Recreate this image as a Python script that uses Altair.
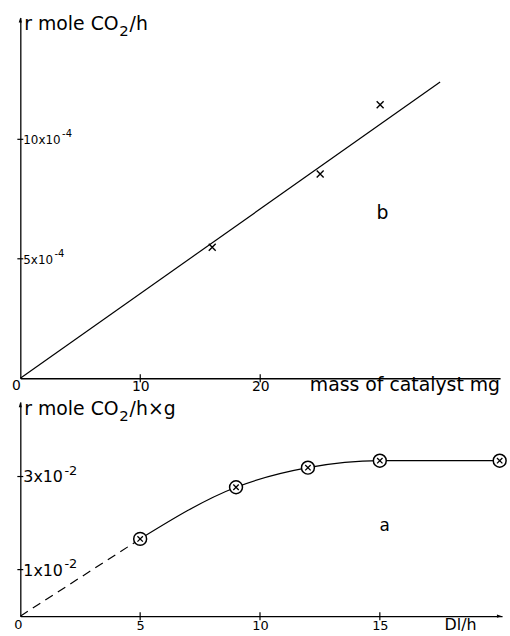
import altair as alt
import pandas as pd

# ---------------- data: panel b (top) ----------------
mass_mg = [16, 25, 30]
rate_b = [5.48e-4, 8.55e-4, 11.45e-4]
fit_mass = [0, 35]
fit_rate = [0, 12.4e-4]
b_xtick_values = [10, 20]
b_ytick_values = [5e-4, 10e-4]
b_ytick_mantissa = ["5x10", "10x10"]
b_ytick_exponent = ["-4", "-4"]

# ---------------- data: panel a (bottom) ----------------
flow = [5, 9, 12, 15, 20]
rate_a = [1.66e-2, 2.77e-2, 3.19e-2, 3.34e-2, 3.34e-2]
extrap_flow = [0, 5]
extrap_rate = [0, 1.66e-2]
a_xtick_values = [5, 10, 15]
a_ytick_values = [1e-2, 3e-2]
a_ytick_mantissa = ["1x10", "3x10"]
a_ytick_exponent = ["-2", "-2"]

FONT = "DejaVu Sans"
INK = "black"
XPATH = "M-1,-1L1,1M-1,1L1,-1"
ARROW_UP = "M0,0L-0.4,1.3L0.4,1.3Z"
ARROW_RIGHT = "M0,0L-1.3,-0.4L-1.3,0.4Z"

# approximate DejaVu Sans advance widths (em) used to chain text pieces
EM = {"r": .411, " ": .318, "m": .974, "o": .612, "l": .278, "e": .615,
      "C": .698, "O": .787, "/": .337, "h": .634, "x": .592, "g": .635,
      "×": .838, "-": .361, "D": .770}
for d in "0123456789":
    EM[d] = .636


def tw(s, size):
    return sum(EM.get(c, .6) for c in s) * size


def one(x, y, t=""):
    return pd.DataFrame({"x": [x], "y": [y], "t": [t]})


def panel(xdom, ydom, xticks, label_pad, label_size):
    xs = alt.Scale(domain=xdom, nice=False, zero=False)
    ys = alt.Scale(domain=ydom, nice=False, zero=False)
    xax = alt.Axis(values=xticks, ticks=False, domain=True, domainColor=INK,
                   domainWidth=1.3, grid=False, labelFont=FONT, labelFontSize=label_size,
                   labelColor=INK, labelPadding=label_pad, format="d", title=None,
                   labelFlush=False)
    yax = alt.Axis(labels=False, ticks=False, domain=True, domainColor=INK,
                   domainWidth=1.3, grid=False, title=None)

    def enc(**kw):
        return dict(x=alt.X("x:Q", scale=xs, axis=xax, title=None),
                    y=alt.Y("y:Q", scale=ys, axis=yax, title=None), **kw)
    return enc


def rich(enc, x, y, parts, dx0):
    """parts: list of (text, fontSize, dy, gap_after)"""
    layers = []
    cur = dx0
    for text, size, dy, gap in parts:
        layers.append(
            alt.Chart(one(x, y, text)).mark_text(
                align="left", baseline="alphabetic", dx=cur, dy=dy,
                font=FONT, fontSize=size, color=INK).encode(**enc(text="t:N")))
        cur += tw(text, size) + gap
    return layers


def ytick_labels(enc, values, mant, expo, base_size, exp_size, base_dy, exp_dy):
    layers = []
    for v, m, e in zip(values, mant, expo):
        layers += rich(enc, 0, v, [(m, base_size, base_dy, 1.5),
                                   (e, exp_size, exp_dy, 0)], 3)
    return layers


# ---------------- top panel ----------------
WB = 484
HB = 364
YB_MAX = 15.1e-4
encb = panel([0, 40], [0, YB_MAX], b_xtick_values, 1, 14)

fit_df = pd.DataFrame({"x": fit_mass, "y": fit_rate})
pts_b = pd.DataFrame({"x": mass_mg, "y": rate_b})
xt_b = pd.DataFrame({"x": b_xtick_values, "y": [0] * len(b_xtick_values)})
yt_b = pd.DataFrame({"x": [0] * len(b_ytick_values), "y": b_ytick_values})

top_layers = [
    alt.Chart(fit_df).mark_line(color=INK, strokeWidth=1.2).encode(**encb()),
    alt.Chart(pts_b).mark_point(shape=XPATH, size=49, stroke=INK,
                                strokeWidth=1.4, filled=False, opacity=1).encode(**encb()),
    alt.Chart(xt_b).mark_tick(orient="vertical", size=8, thickness=1.2,
                              color=INK, opacity=1).encode(**encb()),
    alt.Chart(yt_b).mark_tick(orient="horizontal", size=6, thickness=1.2,
                              color=INK, opacity=1).encode(**encb()),
    alt.Chart(one(0, 0, "0")).mark_text(align="center", baseline="top", dx=-4, dy=1,
                                        font=FONT, fontSize=14, color=INK).encode(**encb(text="t:N")),
    alt.Chart(one(0, YB_MAX)).mark_point(shape=ARROW_UP, size=64, filled=True,
                                         fill=INK, strokeWidth=0, opacity=1).encode(**encb()),
    alt.Chart(one(40, 0, "mass of catalyst mg")).mark_text(
        align="right", baseline="alphabetic", dy=13, font=FONT, fontSize=19,
        color=INK).encode(**encb(text="t:N")),
    alt.Chart(one(30.2, 6.93e-4, "b")).mark_text(
        align="center", baseline="middle", font=FONT, fontSize=19,
        color=INK).encode(**encb(text="t:N")),
]
top_layers += ytick_labels(encb, b_ytick_values, b_ytick_mantissa, b_ytick_exponent,
                           12, 10, 5, -2)
top_layers += rich(encb, 0, YB_MAX, [("r mole CO", 19, 13, 0.5),
                                     ("2", 15, 19, 1),
                                     ("/h", 19, 13, 0)], 4)
top = alt.layer(*top_layers).properties(width=WB, height=HB)

# ---------------- bottom panel ----------------
WA = 486
HA = 216
YA_MAX = 4.6e-2
XA_MAX = 20.1
enca = panel([0, XA_MAX], [0, YA_MAX], a_xtick_values, 3, 13)

curve_df = pd.DataFrame({"x": flow, "y": rate_a})
extrap_df = pd.DataFrame({"x": extrap_flow, "y": extrap_rate})
xt_a = pd.DataFrame({"x": a_xtick_values, "y": [0] * len(a_xtick_values)})
yt_a = pd.DataFrame({"x": [0] * len(a_ytick_values), "y": a_ytick_values})

bottom_layers = [
    alt.Chart(curve_df).mark_line(color=INK, strokeWidth=1.2,
                                  interpolate="monotone").encode(**enca()),
    alt.Chart(extrap_df).mark_line(color=INK, strokeWidth=1.2,
                                   strokeDash=[9, 6]).encode(**enca()),
    alt.Chart(curve_df).mark_point(shape="circle", size=169, stroke=INK, fill="white",
                                   strokeWidth=1.5, filled=True, opacity=1,
                                   fillOpacity=1).encode(**enca()),
    alt.Chart(curve_df).mark_point(shape=XPATH, size=30, stroke=INK,
                                   strokeWidth=1.3, filled=False, opacity=1).encode(**enca()),
    alt.Chart(xt_a).mark_tick(orient="vertical", size=8, thickness=1.2,
                              color=INK, opacity=1).encode(**enca()),
    alt.Chart(yt_a).mark_tick(orient="horizontal", size=6, thickness=1.2,
                              color=INK, opacity=1).encode(**enca()),
    alt.Chart(one(0, 0, "0")).mark_text(align="center", baseline="top", dx=-2, dy=3,
                                        font=FONT, fontSize=13, color=INK).encode(**enca(text="t:N")),
    alt.Chart(one(0, YA_MAX)).mark_point(shape=ARROW_UP, size=64, filled=True,
                                         fill=INK, strokeWidth=0, opacity=1).encode(**enca()),
    alt.Chart(one(XA_MAX, 0)).mark_point(shape=ARROW_RIGHT, size=64, filled=True,
                                         fill=INK, strokeWidth=0, opacity=1).encode(**enca()),
    alt.Chart(one(17.7, 0, "Dl/h")).mark_text(
        align="left", baseline="alphabetic", dy=14, font=FONT, fontSize=16,
        color=INK).encode(**enca(text="t:N")),
    alt.Chart(one(15.2, 1.94e-2, "a")).mark_text(
        align="center", baseline="middle", font=FONT, fontSize=17,
        color=INK).encode(**enca(text="t:N")),
]
bottom_layers += ytick_labels(enca, a_ytick_values, a_ytick_mantissa, a_ytick_exponent,
                              16, 13, 6, -2)
bottom_layers += rich(enca, 0, YA_MAX, [("r mole CO", 19, 13, 0.5),
                                        ("2", 15, 19, 1),
                                        ("/h×g", 19, 13, 0)], 4)
bottom = alt.layer(*bottom_layers).properties(width=WA, height=HA)

chart = alt.vconcat(top, bottom, spacing=24, bounds="flush").configure_view(
    stroke=None
).properties(
    padding={"left": 11.5, "top": 12.8, "right": 0, "bottom": 0},
    background="white",
)

chart.save("out.html", embed_options={"renderer": "svg", "actions": False})
